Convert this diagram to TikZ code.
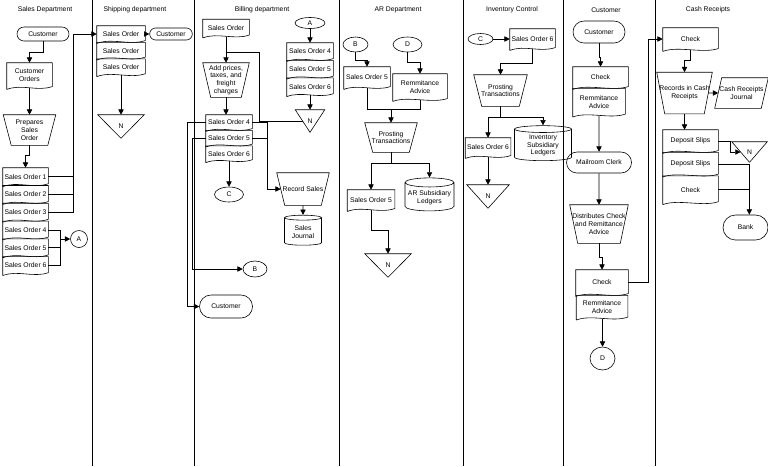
\documentclass[tikz,border=0pt]{standalone}
\usepackage{fontspec}
\setmainfont{Liberation Sans}
\usetikzlibrary{arrows.meta, shapes.geometric, shapes.misc, positioning, calc}

\newcommand{\flowfont}{\fontsize{5.8}{6.6}\selectfont}

\begin{document}
\begin{tikzpicture}[
    x=0.03cm, y=-0.03cm,
    line width=0.5pt,
    every node/.style={font=\flowfont, align=center, inner sep=1pt},
    wd/.style={minimum width=#1*0.03cm},
    ht/.style={minimum height=#1*0.03cm},
    term/.style={draw, rounded rectangle, inner xsep=0pt},
    doc/.style={rectangle},
    manual/.style={rectangle},
    store/.style={rectangle},
    db/.style={draw, cylinder, shape border rotate=90, aspect=0.2, inner ysep=0pt},
    conn/.style={draw, ellipse, inner sep=0pt},
    arrow/.style={-{Triangle[length=4.5pt, width=4.5pt]}},
]
\useasboundingbox (0,0) rectangle (768,466);

% swim lanes
\foreach \x in {92,194,339,463,563,655}
  \draw (\x,0) -- (\x,466);

\node (tsales) at (45,10)  {Sales Department};
\node (tship)  at (135,10) {Shipping department};
\node (tbill)  at (262,10) {Billing department};
\node (tar)    at (398,10) {AR Department};
\node (tinv)   at (512,10) {Inventory Control};
\node (tcust)  at (606,10) {Customer};
\node (tcash)  at (708,10) {Cash Receipts};

% Sales Department
\node[term, wd=52, ht=14] (scust)   at (43,34)    {Customer};
\node[doc, wd=45, ht=25]  (sorders) at (29.5,75.5) {Customer\\Orders};
\node[manual, wd=52, ht=30] (sprep) at (29.5,130) {Prepares\\Sales\\Order};
\node[doc, wd=45, ht=17.2] (sso1) at (25.5,176.6) {Sales Order 1};
\node[doc, wd=45, ht=17.2, below=0pt of sso1] (sso2) {Sales Order 2};
\node[doc, wd=45, ht=17.2, below=0pt of sso2] (sso3) {Sales Order 3};
\node[doc, wd=45, ht=17.2, below=0pt of sso3] (sso4) {Sales Order 4};
\node[doc, wd=45, ht=17.2, below=0pt of sso4] (sso5) {Sales Order 5};
\node[doc, wd=45, ht=17.2, below=0pt of sso5] (sso6) {Sales Order 6};
\node[conn, wd=17, ht=17] (sA) at (79,239) {A};

% Shipping department
\node[doc, wd=48, ht=16] (hso1) at (121,34) {Sales Order};
\node[doc, wd=48, ht=16, below=0pt of hso1] (hso2) {Sales Order};
\node[doc, wd=48, ht=16, below=0pt of hso2] (hso3) {Sales Order};
\node[term, wd=38, ht=12, inner xsep=-2pt] (hcust) at (171,34) {Customer};
\node[store, wd=46, ht=23] (hn) at (121,126.5) {N};

% Billing department
\node[doc, wd=46, ht=17] (bso) at (226,28) {Sales Order};
\node[manual, wd=46, ht=34] (badd) at (226,80) {Add prices,\\taxes, and\\freight\\charges};
\node[doc, wd=46, ht=15] (bso4) at (229,122.5) {Sales Order 4};
\node[doc, wd=46, ht=15, below=0pt of bso4] (bso5) {Sales Order 5};
\node[doc, wd=46, ht=15, below=0pt of bso5] (bso6) {Sales Order 6};
\node[conn, wd=30, ht=11] (bA) at (310,23) {A};
\node[doc, wd=46, ht=17] (ba4) at (310,51.5) {Sales Order 4};
\node[doc, wd=46, ht=17, below=0pt of ba4] (ba5) {Sales Order 5};
\node[doc, wd=46, ht=17, below=0pt of ba5] (ba6) {Sales Order 6};
\node[store, wd=29, ht=22] (bn) at (310,121) {N};
\node[manual, wd=52, ht=32] (brec) at (303,189) {Record Sales};
\node[db, wd=37, ht=30] (bjour) at (303,232) {Sales\\Journal};
\node[conn, wd=29, ht=15] (bC) at (229,194.5) {C};
\node[conn, wd=24, ht=16] (bB) at (255,269) {B};
\node[term, wd=53, ht=23] (bcust) at (226,306.5) {Customer};

% AR Department
\node[conn, wd=25, ht=15] (aB) at (355.5,44.5) {B};
\node[conn, wd=29, ht=15] (aD) at (407.5,44.5) {D};
\node[doc, wd=46, ht=21] (aso5) at (367,77.5) {Sales Order 5};
\node[doc, wd=54, ht=26] (arem) at (420,87) {Remmitance\\Advice};
\node[manual, wd=52, ht=29] (apost) at (391,137.5) {Prosting\\Transactions};
\node[doc, wd=47, ht=20] (aso5b) at (371,200) {Sales Order 5};
\node[db, wd=49, ht=33] (aled) at (429.5,197.5) {AR Subsidiary\\Ledgers};
\node[store, wd=46, ht=23] (an) at (388,265.5) {N};

% Inventory Control
\node[conn, wd=25, ht=11] (iC) at (480.5,39) {C};
\node[doc, wd=45, ht=20] (iso6) at (532.5,39) {Sales Order 6};
\node[manual, wd=53, ht=31] (ipost) at (500.5,90.5) {Prosting\\Transactions};
\node[doc, wd=45, ht=19] (iso6b) at (488,147.5) {Sales Order 6};
\node[db, wd=57, ht=35] (iled) at (543,145.5) {Inventory\\Subsidiary\\Ledgers};
\node[store, wd=42, ht=23] (iN) at (488,196.5) {N};

% Customer
\node[term, wd=52, ht=22] (ccust) at (599,32) {Customer};
\node[doc, wd=55, ht=21] (cchk) at (600.5,77.5) {Check};
\node[doc, wd=52, ht=27, below right=0pt of cchk.south west] (crem) {Remmitance\\Advice};
\node[term, wd=65, ht=21] (cmail) at (599,162.5) {Mailroom Clerk};
\node[manual, wd=58, ht=38] (cdist) at (599,224) {Distributes Check\\and Remittance\\Advice};
\node[doc, wd=52, ht=25] (cchk2) at (602,282.5) {Check};
\node[doc, wd=51, ht=23, below=0pt of cchk2] (crem2) {Remmitance\\Advice};
\node[conn, wd=25, ht=23] (cD) at (602.5,358.5) {D};

% Cash Receipts
\node[doc, wd=55, ht=22] (rchk) at (690.5,39) {Check};
\node[manual, wd=55, ht=41] (rrec) at (684.5,93) {Records in Cash\\Receipts};
\node[rectangle, wd=53, ht=30] (rjour) at (741.5,93) {Cash Receipts\\Journal};
\node[doc, wd=55, ht=22] (rdep1) at (690.5,141) {Deposit Slips};
\node[doc, wd=55, ht=23, below=0pt of rdep1] (rdep2) {Deposit Slips};
\node[doc, wd=55, ht=27, below=0pt of rdep2] (rchk2) {Check};
\node[store, wd=35, ht=20] (rn) at (749.5,152) {N};
\node[term, wd=45, ht=25] (rbank) at (745.5,227.5) {Bank};

% outlines
\foreach \d in {sorders,sso1,sso2,sso3,sso4,sso5,sso6,hso1,hso2,hso3,bso,bso4,bso5,bso6,
                ba4,ba5,ba6,aso5,arem,aso5b,iso6,iso6b,cchk,crem,cchk2,crem2,rchk,rdep1,rdep2,rchk2}
  \draw ([yshift=-1pt]\d.south west) -- (\d.north west) -- (\d.north east) -- ([yshift=1.5pt]\d.south east)
    .. controls ([xshift=-0.45cm, yshift=-3pt]\d.south east) and ([xshift=0.45cm, yshift=4pt]\d.south west)
    .. ([yshift=-1pt]\d.south west);
\foreach \t in {sprep,badd,brec,apost,ipost,cdist,rrec}
  \draw (\t.north west) -- (\t.north east) -- ([xshift=-0.24cm]\t.south east)
    -- ([xshift=0.24cm]\t.south west) -- cycle;
\foreach \n in {hn,bn,an,iN,rn}
  \draw (\n.north west) -- (\n.north east) -- (\n.south) -- cycle;
\draw ([xshift=0.21cm]rjour.north west) -- (rjour.north east) -- ([xshift=-0.21cm]rjour.south east)
  -- (rjour.south west) -- cycle;

% connectors: Sales Department
\draw[arrow] (scust.south) -- ++(0,11) -| (sorders.north);
\draw[arrow] (sorders) -- (sprep);
\draw[arrow] (sprep.south) -- ++(0,10) -| (sso1.north);
\draw[arrow] (sso3.east) -- ++(25,0) |- (hso1.west);
\draw (sso1.east) -- ++(25,0);
\draw (sso2.east) -- ++(25,0);
\draw (sso4.east) -- ++(12,0) coordinate (sbr) |- (sso6.east);
\draw (sso5.east) -- (sso5.east -| sbr);
\draw[arrow] (sbr |- sA.west) -- (sA.west);

% Shipping department
\draw[arrow] (hso1) -- (hcust);
\draw[arrow] (hso3) -- (hn);

% Billing department
\draw[arrow] (bso) -- (badd);
\draw ($(bso.south)+(0,15)$) -- ++(33,0) |- ($(bn.north west)!0.5!(bn.south)$);
\draw[arrow] (badd.south) -- (badd.south |- bso4.north);
\draw[arrow] (bA) -- (ba4);
\draw[arrow] (ba6) -- (bn);
\draw[arrow] (bso4.east) -- ++(15,0) |- ($(brec.north west)!0.5!([xshift=0.24cm]brec.south west)$);
\draw (bso5.east) -- ++(15,0);
\draw[arrow] (bso6) -- (bC);
\draw[arrow] (brec) -- (bjour);
\draw[arrow] (bso5.west) -- ++(-13,0) |- (bB.west);
\draw[arrow] (bso4.west) -- ++(-18,0) |- (bcust.west);

% AR Department
\draw[arrow] (aB.south) -- ++(0,8) -| (aso5.north);
\draw[arrow] (aD.south) -- ++(0,10) -| (arem.north);
\draw[arrow] (aso5.south) |- ($(apost.north)+(0,-13)$) -- (apost.north);
\draw (arem.south) |- ($(apost.north)+(0,-13)$);
\draw[arrow] (apost.south) -- ++(0,11) -| (aso5b.north);
\draw[arrow] (apost.south) -- ++(0,11) -| (aled.north);
\draw[arrow] (aso5b.south) -- ++(0,20) -| (an.north);

% Inventory Control
\draw[arrow] (iC) -- (iso6);
\draw[arrow] (iso6.south) -- ++(0,14) -| (ipost.north);
\draw[arrow] (ipost.south) -- ++(0,11) -| (iso6b.north);
\draw[arrow] (ipost.south) -- ++(0,11) -| (iled.north);
\draw[arrow] (iso6b) -- (iN);

% Customer
\draw[arrow] (ccust.south) -- ++(0,14) -| (cchk.north);
\draw[arrow] (crem.south -| cmail) -- (cmail);
\draw[arrow] (cmail) -- (cdist);
\draw[arrow] (cdist.south) -- ++(0,14) -| (cchk2.north);
\draw[arrow] (crem2.south) -- ++(0,12) -| (cD.north);
\draw[arrow] (cchk2.east) -- ++(20,0) |- (rchk.west);

% Cash Receipts
\draw[arrow] (rchk.south) -- ++(0,10) -| (rrec.north);
\draw[arrow] ($(rrec.north east)!0.5!([xshift=-0.24cm]rrec.south east)$)
  -- ($(rjour.south west)!0.5!([xshift=0.21cm]rjour.north west)$);
\draw[arrow] (rrec.south) -- (rrec.south |- rdep1.north);
\draw[arrow] (rdep1.east) -- ++(12,0) |- ($(rn.north west)!0.5!(rn.south)$);
\draw[arrow] (rdep2.east) -- ++(31,0) coordinate (rbr) -- (rbr |- rbank.north);
\draw (rchk2.east) -- (rchk2.east -| rbr);
\end{tikzpicture}
\end{document}
